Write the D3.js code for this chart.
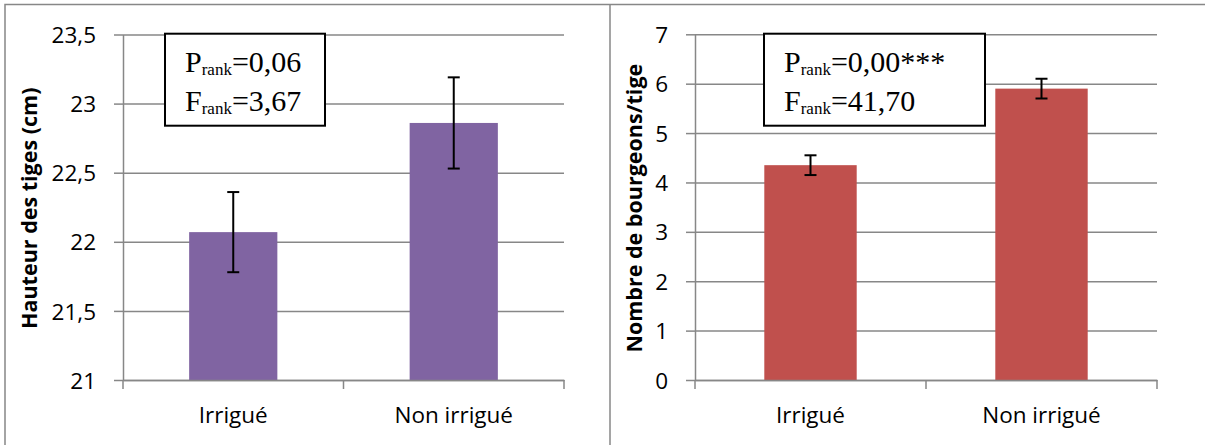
<!DOCTYPE html>
<html>
<head>
<meta charset="utf-8">
<script src="https://cdn.jsdelivr.net/npm/d3@7"></script>
<style>
  html, body { margin: 0; padding: 0; background: #fff; }
  svg { display: block; }
</style>
</head>
<body>
<svg width="1205" height="445"></svg>
<script>
// données
const categories = ['Irrigué', 'Non irrigué'];
const hauteur = [22.07, 22.86];
const hauteurErr = [0.29, 0.33];
const bourgeons = [4.35, 5.9];
const bourgeonsErr = [0.2, 0.2];
const hauteurTicks = [21, 21.5, 22, 22.5, 23, 23.5];
const bourgeonsTicks = [0, 1, 2, 3, 4, 5, 6, 7];
const statsGauche = [['P', '=0,06'], ['F', '=3,67']];
const statsDroite = [['P', '=0,00***'], ['F', '=41,70']];

const svg = d3.select('svg');
const grey = '#878787';
const sans = '"Open Sans", sans-serif';

// cadres des deux panneaux
svg.append('rect').attr('x', 5).attr('y', 4.5).attr('width', 1210).attr('height', 460)
    .attr('fill', 'none').attr('stroke', grey).attr('stroke-width', 1.5);
svg.append('line').attr('x1', 610).attr('x2', 610).attr('y1', 4.5).attr('y2', 445)
    .attr('stroke', grey).attr('stroke-width', 1.5);

drawPanel({
    left: 123, right: 564, top: 34.5, bottom: 380,
    domain: [21, 23.5], ticks: hauteurTicks,
    values: hauteur, errs: hauteurErr, color: '#8064A2',
    title: 'Hauteur des tiges (cm)', titleX: 28,
    box: [165, 33.7, 160, 92], stats: statsGauche
});

drawPanel({
    left: 695, right: 1157, top: 34.3, bottom: 380,
    domain: [0, 7], ticks: bourgeonsTicks,
    values: bourgeons, errs: bourgeonsErr, color: '#C0504D',
    title: 'Nombre de bourgeons/tige', titleX: 633,
    box: [764, 33.7, 221, 92], stats: statsDroite
});

function drawPanel(c) {
    const g = svg.append('g');
    const x = d3.scaleBand().domain(categories).range([c.left, c.right])
        .paddingInner(0.6).paddingOuter(0.3);
    const y = d3.scaleLinear().domain(c.domain).range([c.bottom, c.top]);
    const fmt = d => String(d).replace('.', ',');

    // grille + graduations de l'axe Y
    const yAxis = g.append('g').attr('transform', `translate(${c.left},0)`)
        .call(d3.axisLeft(y).tickValues(c.ticks).tickFormat(fmt).tickSize(9).tickSizeOuter(0).tickPadding(18));
    yAxis.select('.domain').attr('stroke', grey).attr('stroke-width', 1.5);
    yAxis.selectAll('.tick line').attr('stroke', grey).attr('stroke-width', 1.5)
        .clone().attr('x2', c.right - c.left);
    yAxis.selectAll('.tick text').attr('font-family', sans).attr('font-size', 22.5).attr('fill', '#000')
        .attr('dy', '0.36em');

    // barres
    g.selectAll('rect.bar').data(c.values).join('rect').attr('class', 'bar')
        .attr('x', (d, i) => x(categories[i]))
        .attr('width', x.bandwidth())
        .attr('y', d => y(d))
        .attr('height', d => y(c.domain[0]) - y(d))
        .attr('fill', c.color);

    // barres d'erreur
    const eb = g.selectAll('g.err').data(c.values).join('g').attr('class', 'err')
        .attr('transform', (d, i) => `translate(${x(categories[i]) + x.bandwidth() / 2},0)`)
        .attr('stroke', '#000').attr('stroke-width', 2);
    eb.append('line').attr('y1', (d, i) => y(d - c.errs[i])).attr('y2', (d, i) => y(d + c.errs[i]));
    eb.append('line').attr('x1', -6).attr('x2', 6).attr('y1', (d, i) => y(d - c.errs[i])).attr('y2', (d, i) => y(d - c.errs[i]));
    eb.append('line').attr('x1', -6).attr('x2', 6).attr('y1', (d, i) => y(d + c.errs[i])).attr('y2', (d, i) => y(d + c.errs[i]));

    // axe X
    const xAxis = g.append('g').attr('transform', `translate(0,${c.bottom})`)
        .call(d3.axisBottom(x).tickSize(0).tickPadding(27).tickSizeOuter(0));
    xAxis.select('.domain').attr('stroke', grey).attr('stroke-width', 1.5);
    xAxis.selectAll('.tick text').attr('font-family', sans).attr('font-size', 22.5).attr('fill', '#000');
    const bounds = [c.left, (c.left + c.right) / 2, c.right];
    xAxis.selectAll('line.sep').data(bounds).join('line').attr('class', 'sep')
        .attr('x1', d => d).attr('x2', d => d).attr('y1', 0).attr('y2', 9)
        .attr('stroke', grey).attr('stroke-width', 1.5);

    // titre de l'axe Y
    g.append('text')
        .attr('transform', `translate(${c.titleX},${(c.top + c.bottom) / 2 + 1}) rotate(-90)`)
        .attr('text-anchor', 'middle').attr('dominant-baseline', 'central')
        .attr('font-family', sans).attr('font-weight', 'bold').attr('font-size', 21.5)
        .text(c.title);

    // encadré statistique
    const [bx, by, bw, bh] = c.box;
    g.append('rect').attr('x', bx).attr('y', by).attr('width', bw).attr('height', bh)
        .attr('fill', '#fff').attr('stroke', '#000').attr('stroke-width', 2);
    c.stats.forEach((s, i) => {
        const t = g.append('text').attr('x', bx + 20).attr('y', by + 38 + i * 39)
            .attr('font-family', '"Liberation Serif", "Times New Roman", serif')
            .attr('font-size', 30).attr('fill', '#000');
        t.append('tspan').text(s[0]);
        t.append('tspan').attr('font-size', 17).attr('dy', 3).text('rank');
        t.append('tspan').attr('dy', -3).text(s[1]);
    });
}
</script>
</body>
</html>
